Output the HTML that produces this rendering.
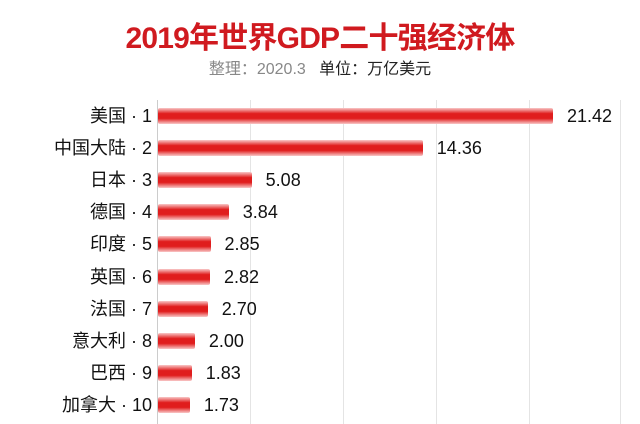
<!DOCTYPE html><html><head><meta charset="utf-8"><style>
body{margin:0;width:640px;height:424px;background:#fff;font-family:"Liberation Sans","Noto Sans CJK SC",sans-serif;overflow:hidden;position:relative}
.t{position:absolute;left:0;width:640px;text-align:center;top:13px;font-size:30px;font-weight:bold;color:#d01a1f;letter-spacing:-0.8px}
.s{position:absolute;left:0;width:640px;text-align:center;top:55px;font-size:16px;color:#222}
.s span{color:#888}
.g{position:absolute;top:100px;height:324px;width:1px;background:#e4e4e4}
.l{position:absolute;right:488px;font-size:18px;color:#111;white-space:nowrap;line-height:20px}
.b{position:absolute;left:158px;height:16px;background:linear-gradient(#f9c8c8,#e01d1d 35%,#e01d1d 65%,#f9c8c8);border-radius:2px}
.v{position:absolute;font-size:18px;color:#111;line-height:20px}
</style></head><body>
<div class="t">2019年世界GDP二十强经济体</div>
<div class="s"><span>整理：2020.3</span>&nbsp;&nbsp; 单位：万亿美元</div>
<div class="g" style="left:157px;background:#ccc"></div>
<div class="g" style="left:250px"></div><div class="g" style="left:343px"></div><div class="g" style="left:436px"></div><div class="g" style="left:529px"></div><div class="g" style="left:620px"></div>
<div id="c"></div>
<script>
var d=[["美国",21.42],["中国大陆",14.36],["日本",5.08],["德国",3.84],["印度",2.85],["英国",2.82],["法国",2.70],["意大利",2.00],["巴西",1.83],["加拿大",1.73]];
var h="";d.forEach(function(r,i){var y=116+i*32.1;var w=r[1]*18.44;
h+='<div class="l" style="top:'+(y-10)+'px">'+r[0]+' · '+(i+1)+'</div>';
h+='<div class="b" style="top:'+(y-8)+'px;width:'+w+'px"></div>';
h+='<div class="v" style="top:'+(y-10)+'px;left:'+(158+w+14)+'px">'+r[1].toFixed(2)+'</div>';});
document.getElementById("c").innerHTML=h;
</script>
</body></html>
